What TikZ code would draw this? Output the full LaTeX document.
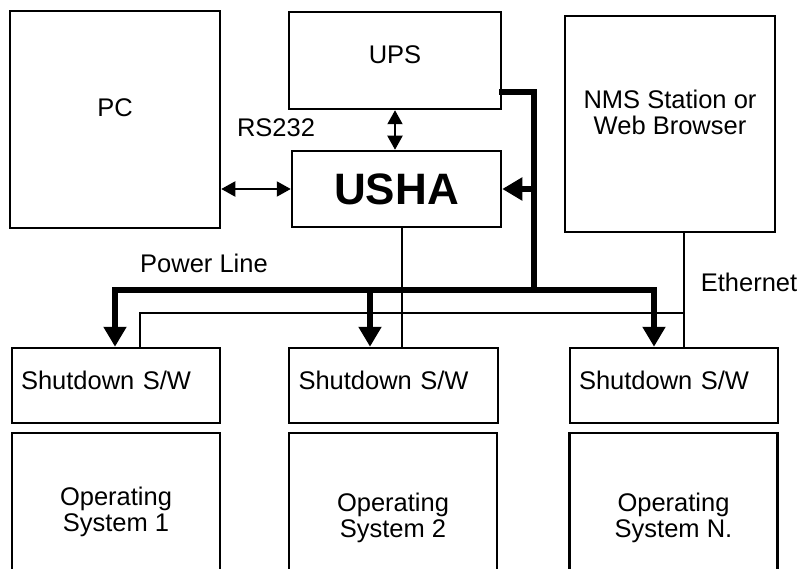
\documentclass[tikz,border=0pt]{standalone}
\usepackage{fontspec}
\setmainfont{Liberation Sans}
\usetikzlibrary{arrows.meta}

\tikzset{
  box/.style={draw,rectangle,line width=2.5pt,inner sep=0pt,align=center},
  swbox/.style={box,minimum width=208pt,minimum height=75pt,text width=190pt,align=left,text depth=11pt},
  osbox/.style={box,minimum width=208pt,minimum height=170pt},
  lift/.style={text depth=#1},
  wire/.style={line width=2pt},
  bus/.style={line width=6pt,line cap=rect},
  power/.style={bus,-{Triangle[length=20pt,width=22pt]}},
  dataarr/.style={wire,{Triangle[length=14pt,width=15pt]}-{Triangle[length=14pt,width=15pt]}}
}

\begin{document}
\begin{tikzpicture}
  [x=1pt,y=-1pt,every node/.style={font=\fontsize{25.5}{26}\selectfont}]
  \useasboundingbox (0,0) rectangle (800,569);
  % top row
  \node[box,minimum width=210pt,minimum height=217pt,lift=23pt] (pc) at (115,119.5) {PC};
  \node[box,minimum width=212pt,minimum height=97pt,lift=11pt] (ups) at (395,60.5) {UPS};
  \node[box,minimum width=209pt,minimum height=76pt,font=\fontsize{44}{48}\selectfont\bfseries] (usha) at (396.5,189) {USHA};
  \node[box,minimum width=210pt,minimum height=216pt,lift=24pt] (nms) at (670,124) {NMS Station or\\Web Browser};
  % hosts
  \node[swbox] (sw1) at (116,385.5) {Shutdown S/W};
  \node[swbox,minimum width=209pt] (sw2) at (393.5,385.5) {Shutdown S/W};
  \node[swbox] (sw3) at (674,385.5) {Shutdown S/W};
  \node[osbox,lift=17pt] (os1) at (116,518) {Operating\\System 1};
  \node[osbox] (os2) at (393,518) {Operating\\System 2};
  \node[osbox] (os3) at (673.5,518) {Operating\\System N.};
  % labels
  \node (rs) at (276,128) {RS232};
  \node (pl) at (204,263) {Power Line};
  \node (eth) at (749,282) {Ethernet};
  % bus points
  \coordinate (upsout) at ([yshift=18pt]ups.south east);
  \coordinate (j) at (534,290);
  \coordinate (p1) at (115,290);
  \coordinate (p2) at (370,290);
  \coordinate (p3) at (654,290);
  \coordinate (n1) at (140,313);
  \coordinate (n2) at (402,313);
  \coordinate (n3) at (684,313);
  % power line
  \draw[bus] (upsout) -| (j);
  \draw[bus] (p1) -- (p3);
  \foreach \p/\s in {p1/sw1,p2/sw2,p3/sw3}
    \draw[power] (\p) -- (\p |- \s.north);
  \draw[power] (usha.east -| j) -- (usha.east);
  % serial links
  \draw[dataarr] (usha.west -| pc.east) -- (usha.west);
  \draw[dataarr] (ups.south) -- (ups.south |- usha.north);
  % network
  \draw[wire] (n2 |- usha.south) -- (n2 |- sw2.north);
  \draw[wire] (n3 |- nms.south) -- (n3 |- sw3.north);
  \draw[wire] (n3) -- (n1) -- (n1 |- sw1.north);
\end{tikzpicture}
\end{document}
